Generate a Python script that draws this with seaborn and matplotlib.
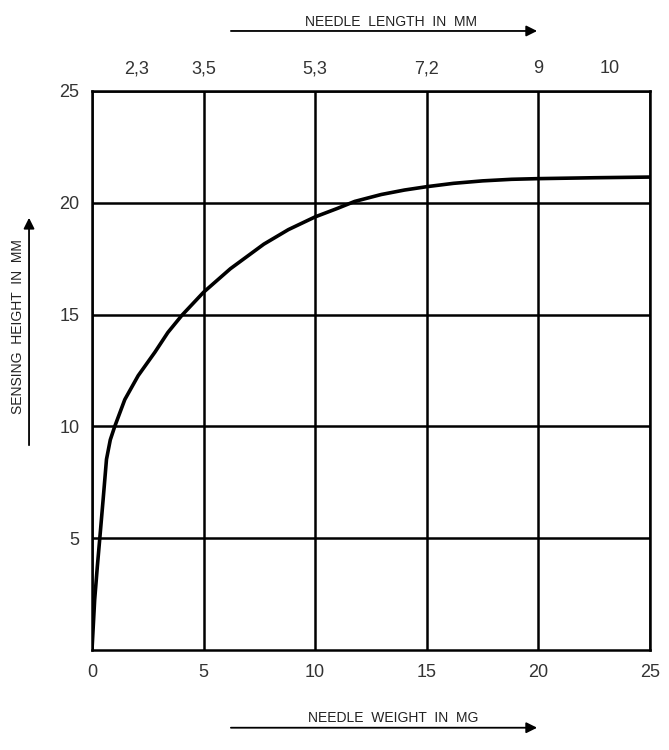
import matplotlib.pyplot as plt
from matplotlib.patches import FancyArrowPatch
import pandas as pd
import seaborn as sns

# curve (needle weight in mg -> sensing height in mm)
weight_mg = [0, 0.12, 0.24, 0.35, 0.5, 0.65, 0.82, 1.02, 1.47, 2.07, 2.82, 3.4, 4.03, 5.0,
             6.2, 7.7, 8.8, 10.0, 11.0, 11.77, 12.96, 14.0, 15.0, 16.2, 17.5, 18.8, 20.0, 22.5, 25.0]
height_mm = [0, 2.25, 3.74, 5.0, 6.74, 8.53, 9.4, 10.0, 11.2, 12.27, 13.32, 14.2, 14.97, 16.0,
             17.05, 18.15, 18.8, 19.37, 19.75, 20.06, 20.37, 20.57, 20.72, 20.87, 20.98, 21.05, 21.08, 21.12, 21.15]

x_ticks = [0, 5, 10, 15, 20, 25]
y_ticks = [5, 10, 15, 20, 25]
needle_pos = [2.0, 5.0, 10.0, 15.0, 20.0, 23.2]
needle_len = ["2,3", "3,5", "5,3", "7,2", "9", "10"]

df = pd.DataFrame({"weight": weight_mg, "height": height_mm})

sns.set_style("white")
plt.rcParams["font.family"] = ["Liberation Sans", "DejaVu Sans"]

fig = plt.figure(figsize=(6.69, 7.5), dpi=100)
ax = fig.add_axes([0.1375, 0.1333, 0.834, 0.7454])

sns.lineplot(data=df, x="weight", y="height", ax=ax, color="black", linewidth=2.6)

ax.set_xlim(0, 25)
ax.set_ylim(0, 25)
ax.set_xticks(x_ticks)
ax.set_yticks(y_ticks)
ax.set_xlabel("")
ax.set_ylabel("")
ax.grid(True, color="black", linewidth=1.8)
ax.set_axisbelow(True)
for spine in ax.spines.values():
    spine.set_color("black")
    spine.set_linewidth(1.8)
ax.tick_params(axis="x", length=0, labelsize=13, labelcolor="#333333", pad=10)
ax.tick_params(axis="y", length=0, labelsize=13, labelcolor="#333333", pad=9)

# needle length along the top
top = ax.secondary_xaxis("top")
top.set_xticks(needle_pos)
top.set_xticklabels(needle_len)
top.tick_params(length=0, labelsize=13, labelcolor="#333333", pad=10)
top.spines["top"].set_visible(False)

# axis captions with arrows
arrow = dict(arrowstyle="-|>", color="black", lw=1.3, mutation_scale=16)
fig.text(0.585, 0.971, "NEEDLE  LENGTH  IN  MM", ha="center", va="center", fontsize=10, color="#222222")
fig.add_artist(FancyArrowPatch((0.341, 0.9587), (0.807, 0.9587), transform=fig.transFigure, **arrow))
fig.text(0.587, 0.0423, "NEEDLE  WEIGHT  IN  MG", ha="center", va="center", fontsize=10, color="#222222")
fig.add_artist(FancyArrowPatch((0.341, 0.0297), (0.807, 0.0297), transform=fig.transFigure, **arrow))
fig.text(0.027, 0.564, "SENSING  HEIGHT  IN  MM", ha="center", va="center", rotation=90,
         fontsize=10, color="#222222")
fig.add_artist(FancyArrowPatch((0.0434, 0.4027), (0.0434, 0.7133), transform=fig.transFigure, **arrow))

fig.savefig("out.png", dpi=100)
